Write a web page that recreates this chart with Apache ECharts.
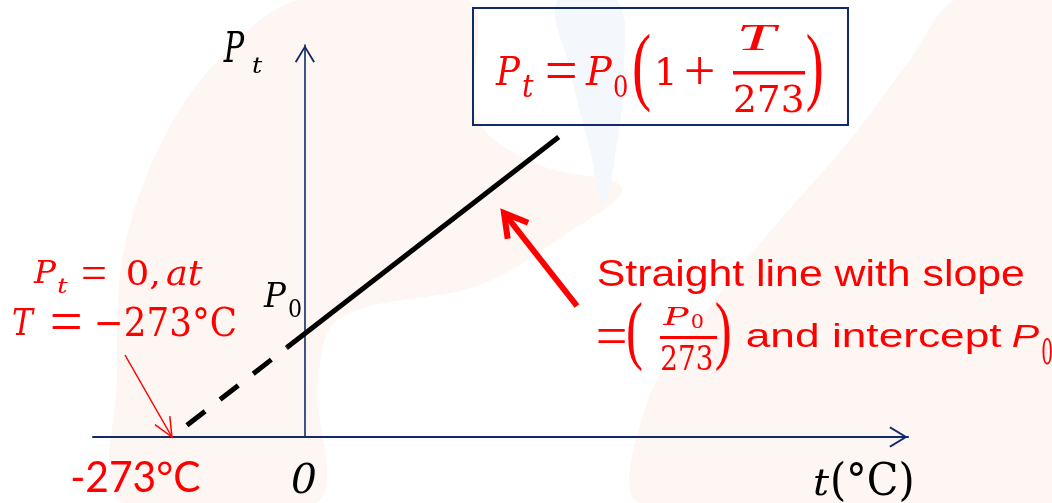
<!DOCTYPE html>
<html>
<head>
<meta charset="utf-8">
<style>
  html, body { margin: 0; padding: 0; background: #ffffff; }
  #chart { width: 1052px; height: 503px; }
</style>
<script src="https://cdn.jsdelivr.net/npm/echarts@6/dist/echarts.min.js"></script>
</head>
<body>
<div id="chart"></div>
<script>
// Temperature axis range (°C) and pressure axis range (in units of P0)
const tempRange = [-435, 1238];
const presRange = [0, 3.77];

// Extrapolated part of the line (dashed), down to absolute zero
const extrapT = [-273, -37];
const extrapP = [0, 0.86];

// Measured part of the line (solid)
const measuredT = [-37, 521];
const measuredP = [0.86, 2.885];

const NAVY = '#112b6a';
const RED = '#ff0000';
const MATH = '"DejaVu Serif"';
const THIN = '"Liberation Serif"';
const SANS = '"Liberation Sans"';

// open chevron used as axis arrow head (points up before rotation)
const CHEVRON = 'path://M10,0 L20,16.4 L18.5,17.6 L10,3.4 L1.5,17.6 L0,16.4 Z';

const zip = (a, b) => a.map((v, i) => [v, b[i]]);

const chart = echarts.init(document.getElementById('chart'), null, { renderer: 'canvas' });

chart.setOption({
  animation: false,
  backgroundColor: '#ffffff',
  grid: { left: 93, right: 144, top: 45, bottom: 66 },
  xAxis: {
    type: 'value',
    min: tempRange[0],
    max: tempRange[1],
    axisLine: {
      onZero: true,
      lineStyle: { color: NAVY, width: 2 },
      symbol: ['none', CHEVRON],
      symbolSize: [21, 19],
      symbolOffset: [0, -9.5]
    },
    axisTick: { show: false },
    axisLabel: { show: false },
    splitLine: { show: false }
  },
  yAxis: {
    type: 'value',
    min: presRange[0],
    max: presRange[1],
    axisLine: {
      show: true,
      onZero: true,
      lineStyle: { color: NAVY, width: 1.6 },
      symbol: ['none', CHEVRON],
      symbolSize: [20, 18],
      symbolOffset: [0, -9]
    },
    axisTick: { show: false },
    axisLabel: { show: false },
    splitLine: { show: false }
  },
  series: [
    {
      type: 'line',
      data: zip(extrapT, extrapP),
      symbol: 'none',
      lineStyle: { color: '#000000', width: 5, type: [23, 19], dashOffset: 23, cap: 'butt' },
      z: 3
    },
    {
      type: 'line',
      data: zip(measuredT, measuredP),
      symbol: 'none',
      lineStyle: { color: '#000000', width: 5, cap: 'butt' },
      z: 3
    }
  ]
});

// ---- annotation layer ----
const measureCtx = document.createElement('canvas').getContext('2d');

// place a text so that its ink fills the given box (l, r, top t, bottom b).
// mode 'base': b is the baseline; 'full': b is the ink bottom;
// 'sym': keep aspect, fit width and centre the ink vertically in the box
function fitText(str, font, color, box, mode) {
  measureCtx.font = font;
  measureCtx.textBaseline = 'alphabetic';
  const m = measureCtx.measureText(str);
  const inkL = m.actualBoundingBoxLeft;
  const inkW = m.actualBoundingBoxLeft + m.actualBoundingBoxRight;
  const asc = m.actualBoundingBoxAscent;
  const desc = m.actualBoundingBoxDescent;
  const sx = (box.r - box.l) / inkW;
  let sy, baseY;
  if (mode === 'full') {
    sy = (box.b - box.t) / (asc + desc);
    baseY = box.t + asc * sy;
  } else if (mode === 'sym') {
    sy = sx;
    const mid = (box.t + box.b) / 2;
    baseY = mid + ((asc - desc) / 2) * sy;
  } else {
    sy = (box.b - box.t) / asc;
    baseY = box.b;
  }
  measureCtx.textBaseline = 'middle';
  const off = asc - measureCtx.measureText(str).actualBoundingBoxAscent;
  return {
    type: 'text', silent: true, z: 50,
    x: box.l + inkL * sx, y: baseY - off * sy, scaleX: sx, scaleY: sy,
    style: { text: str, font: font, fill: color, align: 'left', verticalAlign: 'middle' }
  };
}

const mi = s => 'italic ' + s + 'px ' + MATH;
const mu = s => s + 'px ' + MATH;
const ti = s => 'italic ' + s + 'px ' + THIN;
const tu = s => s + 'px ' + THIN;
const B = (l, r, t, b) => ({ l, r, t, b });

function arrow(tail, tip, wingLen, wingDeg, width, color) {
  const dx = tail[0] - tip[0], dy = tail[1] - tip[1];
  const len = Math.hypot(dx, dy);
  const ux = dx / len, uy = dy / len;
  const a = wingDeg * Math.PI / 180;
  const w1 = [tip[0] + wingLen * (ux * Math.cos(a) - uy * Math.sin(a)), tip[1] + wingLen * (ux * Math.sin(a) + uy * Math.cos(a))];
  const w2 = [tip[0] + wingLen * (ux * Math.cos(-a) - uy * Math.sin(-a)), tip[1] + wingLen * (ux * Math.sin(-a) + uy * Math.cos(-a))];
  return [
    { type: 'polyline', silent: true, z: 40, shape: { points: [tail, tip] }, style: { stroke: color, lineWidth: width, fill: null } },
    { type: 'polyline', silent: true, z: 40, shape: { points: [w1, tip, w2] }, style: { stroke: color, lineWidth: width, fill: null, lineJoin: 'miter' } }
  ];
}

// faint watermark behind the drawing
const PEACH = '#fdf6f2';
const SKY = '#f4f8fc';

const background = [
  { type: 'polygon', silent: true, z: -100,
    shape: { smooth: 0.35, points: [[300, 0], [468, 0], [478, 120], [540, 165], [622, 188], [560, 238], [480, 285], [340, 318], [318, 380], [316, 503], [122, 503], [117, 380], [124, 250], [168, 130], [230, 48]] },
    style: { fill: PEACH } },
  { type: 'polygon', silent: true, z: -99,
    shape: { smooth: 0.4, points: [[558, 0], [616, 0], [624, 70], [616, 150], [603, 205], [590, 150], [570, 70]] },
    style: { fill: SKY } },
  { type: 'polygon', silent: true, z: -100,
    shape: { smooth: 0.3, points: [[955, 0], [1052, 0], [1052, 503], [640, 503], [648, 400], [700, 320], [763, 240], [850, 140], [910, 60]] },
    style: { fill: PEACH } }
];

const zeroPt = chart.convertToPixel({ gridIndex: 0 }, [extrapT[0], extrapP[0]]);

const annotations = [
  // axis titles
  fitText('P', mi(40), '#000', B(223, 245, 31, 62)),
  fitText('t', mi(28), '#000', B(253, 263, 57, 73)),
  fitText('P', mi(34), '#000', B(263, 287, 283, 307)),
  fitText('0', mu(24), '#000', B(289, 301, 299, 317)),
  fitText('0', mi(44), '#000', B(292, 316, 461, 494), 'full'),
  fitText('t', mi(40), '#000', B(815, 830, 470, 495)),
  fitText('(°C)', mu(40), '#000', B(833, 912, 462, 495)),
  fitText('-273°C', '44px Lato', RED, B(72, 200, 460, 492)),

  // boxed equation
  { type: 'rect', silent: true, z: 45, shape: { x: 473, y: 8, width: 375, height: 117 },
    style: { fill: null, stroke: NAVY, lineWidth: 2 } },
  fitText('P', mi(37), RED, B(495, 521, 57, 85)),
  fitText('t', mi(26), RED, B(523, 534, 75, 97)),
  fitText('=', tu(50), RED, B(547, 575, 63, 79), 'sym'),
  fitText('P', mi(37), RED, B(585, 613, 57, 85)),
  fitText('0', mu(26), RED, B(614, 627, 75, 97)),
  fitText('(', tu(90), RED, B(634, 650, 32, 113), 'full'),
  fitText('1', mu(37), RED, B(658, 673, 57, 85)),
  fitText('+', tu(50), RED, B(686, 713, 57, 84), 'sym'),
  fitText('T', ti(40), RED, B(740, 780, 25, 50)),
  { type: 'rect', silent: true, z: 50, shape: { x: 733, y: 71, width: 72, height: 3.5 }, style: { fill: RED } },
  fitText('273', mu(37), RED, B(735, 802, 84, 112)),
  fitText(')', tu(90), RED, B(807, 822, 32, 113), 'full'),

  // absolute-zero note
  fitText('P', mi(34), RED, B(33, 57, 260, 283)),
  fitText('t', mi(24), RED, B(58, 68, 278, 293)),
  fitText('=', tu(44), RED, B(83, 105, 268, 278), 'sym'),
  fitText('0,', mu(34), RED, B(128, 158, 260, 285)),
  fitText('at', mi(34), RED, B(167, 203, 260, 285)),
  fitText('T', mi(34), RED, B(13, 35, 307, 335)),
  fitText('=', tu(50), RED, B(52, 80, 317, 327), 'sym'),
  fitText('−273°C', mu(34), RED, B(97, 235, 306, 336)),

  // slope / intercept note
  fitText('Straight line with slope', '35px ' + SANS, RED, B(598, 1023, 258, 286)),
  fitText('=', tu(50), RED, B(598, 625, 330, 342), 'sym'),
  fitText('(', tu(80), RED, B(628, 642, 302, 372), 'full'),
  fitText('P', mi(24), RED, B(662, 690, 307, 325)),
  fitText('0', mu(17), RED, B(692, 703, 315, 328)),
  { type: 'rect', silent: true, z: 50, shape: { x: 660, y: 336, width: 57, height: 3 }, style: { fill: RED } },
  fitText('273', mu(34), RED, B(662, 712, 345, 370)),
  fitText(')', tu(80), RED, B(716, 730, 302, 372), 'full'),
  fitText('and intercept', '35px ' + SANS, RED, B(747, 1002, 323, 347)),
  fitText('P', 'italic 35px ' + SANS, RED, B(1013, 1040, 325, 347)),
  fitText('0', mu(26), RED, B(1042, 1052, 338, 364))
]
  .concat(arrow([577, 306], [504, 213], 26, 30, 6, RED))
  .concat(arrow([125, 355], zeroPt, 21, 24, 1.5, RED));

chart.setOption({ graphic: { elements: background.concat(annotations) } });
</script>
</body>
</html>
